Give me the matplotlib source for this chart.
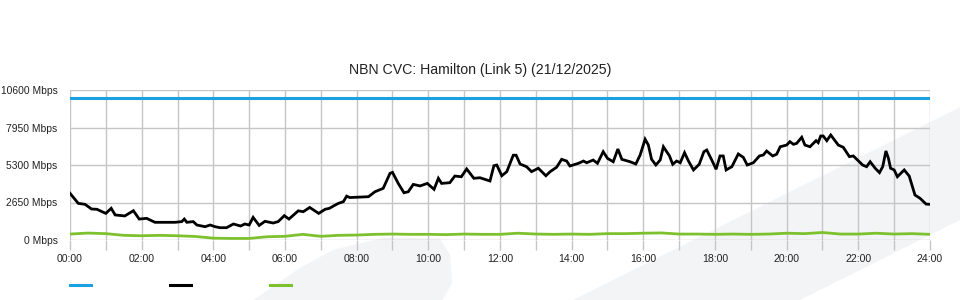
import numpy as np
import matplotlib
matplotlib.use("Agg")
import matplotlib.pyplot as plt
from matplotlib.lines import Line2D
from matplotlib.patches import Polygon

plt.rcParams['font.family'] = ['Liberation Sans', 'DejaVu Sans']

title = "NBN CVC: Hamilton (Link 5) (21/12/2025)"
y_ticks = [0, 2650, 5300, 7950, 10600]
y_labels = ["0 Mbps", "2650 Mbps", "5300 Mbps", "7950 Mbps", "10600 Mbps"]
x_labels = ["00:00", "02:00", "04:00", "06:00", "08:00", "10:00", "12:00",
            "14:00", "16:00", "18:00", "20:00", "22:00", "24:00"]

# capacity (blue)
capacity_hours = [0, 24]
capacity_mbps = [10000, 10000]

# utilisation (black)
usage_hours = [0.0, 0.23, 0.42, 0.6, 0.75, 1.0, 1.15, 1.26, 1.53, 1.77, 1.93, 2.14, 2.37,
               2.93, 3.12, 3.19, 3.26, 3.44, 3.54, 3.77, 3.91, 4.05, 4.19, 4.37, 4.56,
               4.76, 4.88, 5.0, 5.11, 5.28, 5.44, 5.67, 5.81, 5.98, 6.11, 6.37, 6.51,
               6.69, 6.94, 7.12, 7.24, 7.35, 7.49, 7.63, 7.72, 7.81, 8.09, 8.33, 8.51,
               8.74, 8.93, 9.0, 9.16, 9.32, 9.44, 9.58, 9.77, 9.97, 10.16, 10.28, 10.37,
               10.6, 10.74, 10.92, 11.07, 11.27, 11.44, 11.63, 11.72, 11.83, 11.91, 12.05,
               12.19, 12.37, 12.45, 12.56, 12.74, 12.88, 13.07, 13.28, 13.4, 13.58, 13.72,
               13.86, 13.95, 14.19, 14.33, 14.42, 14.6, 14.72, 14.88, 15.0, 15.16, 15.29,
               15.4, 15.63, 15.79, 15.91, 16.05, 16.14, 16.23, 16.35, 16.47, 16.56, 16.73,
               16.82, 16.93, 17.03, 17.15, 17.26, 17.4, 17.56, 17.69, 17.77, 17.91, 18.03,
               18.14, 18.23, 18.31, 18.47, 18.65, 18.79, 18.9, 19.07, 19.24, 19.35, 19.44,
               19.61, 19.72, 19.82, 20.0, 20.09, 20.19, 20.28, 20.42, 20.51, 20.65, 20.82,
               20.88, 20.95, 21.02, 21.12, 21.23, 21.32, 21.44, 21.58, 21.75, 21.86, 22.12,
               22.23, 22.33, 22.47, 22.59, 22.68, 22.77, 22.84, 22.9, 23.0, 23.09, 23.28,
               23.42, 23.58, 23.72, 23.89, 24.0]
usage_mbps = [3300, 2590, 2520, 2190, 2170, 1880, 2240, 1770, 1700, 2070, 1480, 1530, 1250,
              1250, 1300, 1480, 1250, 1300, 1060, 940, 1060, 940, 870, 870, 1130,
              990, 1130, 1060, 1600, 1030, 1320, 1200, 1300, 1720, 1480, 2060, 2000,
              2300, 1880, 2170, 2240, 2400, 2590, 2710, 3100, 3000, 3030, 3060, 3410,
              3650, 4710, 4780, 4000, 3340, 3410, 3930, 3820, 4000, 3580, 4360, 4000,
              4050, 4520, 4470, 5020, 4360, 4400, 4240, 4170, 5250, 5300, 4540,
              4830, 5990, 5990, 5370, 5180, 4830, 5070, 4540, 4830, 5140, 5700,
              5580, 5230, 5420, 5580, 5460, 5650, 5420, 6240, 5770, 5530, 6430,
              5700, 5530, 5370, 6000, 7120, 6710, 5700, 5300, 5650, 6590, 5940,
              5350, 5580, 5460, 6170, 5580, 4950, 5350, 6240, 6360, 5650, 5000,
              5940, 5940, 4950, 5180, 6080, 5840, 5300, 5460, 5940, 6010, 6290,
              5940, 6060, 6590, 6710, 6950, 6760, 6830, 7260, 6710, 6590, 7020,
              6880, 7350, 7350, 7020, 7420, 7120, 6710, 6550, 5890, 5940, 5300,
              5180, 5530, 5070, 4760, 5180, 6290, 5770, 5070, 4950, 4470, 4950,
              4520, 3180, 2950, 2540, 2520]

# upload / other (green), half-hourly
green_hours = [i * 0.5 for i in range(49)]
green_mbps = [420, 490, 450, 330, 300, 330, 300, 250, 130, 110, 110, 230, 260, 400, 260, 330,
              350, 400, 420, 400, 400, 380, 420, 400, 400, 480, 420, 400, 420, 400, 450, 450,
              480, 500, 420, 420, 400, 420, 400, 420, 480, 450, 530, 420, 420, 480, 420, 450,
              400]

BLUE = '#1ba1e2'
BLACK = '#000000'
GREEN = '#7dc22e'
GRID = '#c6c6c6'

fig = plt.figure(figsize=(9.6, 3.0), dpi=100)

# faint background swoosh
swoosh = '#f3f4f6'
fig.add_artist(Polygon([(0.597, 0.0), (1.0, 0.643), (1.0, 0.267), (0.896, 0.10), (0.833, 0.0)],
                       closed=True, transform=fig.transFigure,
                       facecolor=swoosh, edgecolor='none', zorder=0))
fig.add_artist(Polygon([(0.264, 0.0), (0.3125, 0.107), (0.347, 0.167), (0.40, 0.208),
                        (0.458, 0.205), (0.469, 0.15), (0.471, 0.057), (0.461, 0.0)],
                       closed=True, transform=fig.transFigure,
                       facecolor=swoosh, edgecolor='none', zorder=0))

ax = fig.add_axes([70 / 960, 0.2, 860 / 960, 0.5])
ax.patch.set_alpha(0)

ax.plot(capacity_hours, capacity_mbps, color=BLUE, lw=2.2, zorder=3)
ax.plot(usage_hours, usage_mbps, color=BLACK, lw=2.0, zorder=4, solid_joinstyle='miter')
ax.plot(green_hours, green_mbps, color=GREEN, lw=2.0, zorder=3)

ax.set_xlim(0, 24)
ax.set_ylim(0, 10600)
ax.set_xticks(np.arange(0, 25, 1), minor=False)
ax.set_xticklabels([x_labels[i // 2] if i % 2 == 0 else '' for i in range(25)])
ax.set_yticks(y_ticks)
ax.set_yticklabels(y_labels)
ax.grid(True, color=GRID, lw=1.0, zorder=1)
for s in ax.spines.values():
    s.set_visible(False)
ax.tick_params(axis='x', length=7, color=GRID, width=1, pad=3, labelsize=7.6, labelcolor='#222222')
ax.tick_params(axis='y', length=0, pad=9, labelsize=7.4, labelcolor='#222222')

fig.text(0.5, 1 - 70 / 300, title, ha='center', va='center', fontsize=10.2, color='#222222')

# legend swatches (no labels)
for x0, c in [(70, BLUE), (170, BLACK), (270, GREEN)]:
    fig.add_artist(Line2D([x0 / 960, (x0 + 21) / 960], [1 - 285 / 300] * 2, color=c, lw=2.2,
                          transform=fig.transFigure))

fig.savefig('out.png', dpi=100)
